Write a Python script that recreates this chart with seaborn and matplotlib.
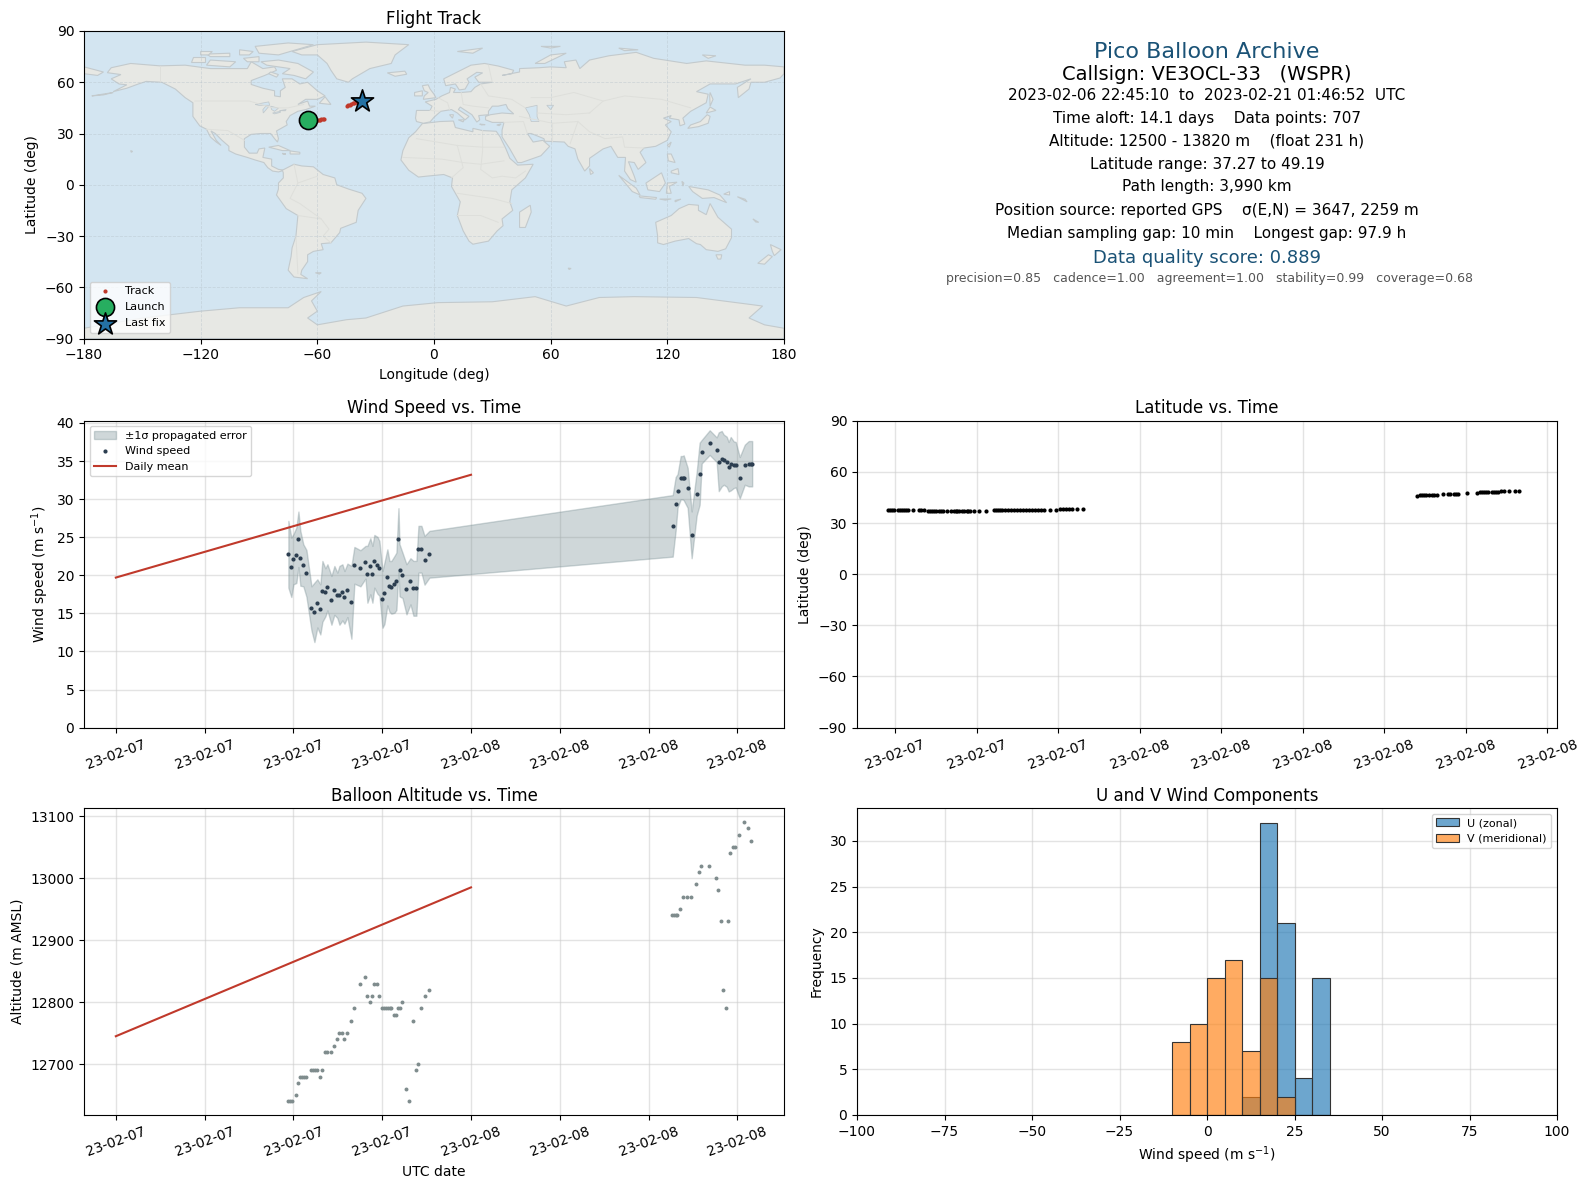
#!/usr/bin/env python3
"""Pico balloon flight summary figure, six panels."""
import matplotlib
matplotlib.use("Agg")
import matplotlib.pyplot as plt
import numpy as np
import seaborn as sns

W, H = 1587, 1189

# --- map outlines (lon, lat) ---
north_america = [(-168,65.6),(-166,68.5),(-156,71),(-141,69.6),(-128,70),(-115,68),(-108,68),(-96,68),(-94,72),(-88,68),(-82,69),(-81,67),(-87,64),(-94,61),(-94,58.7),(-88,56.5),(-82,55),(-82,52),(-79,51.5),(-79,55),(-76.5,57),(-78,62),(-73,62),(-69,59),(-65,60),(-60,55),(-56,52),(-60,50),(-66,50),(-70,47),(-65,49),(-64,46),(-61,46),(-66,44),(-70,43),(-74,40.5),(-76,37),(-75.5,35),(-81,31.5),(-80,27),(-80.5,25),(-82,27),(-84,30),(-89,30),(-94,29.5),(-97.5,27),(-97.5,22),(-95,18.5),(-91,18.5),(-90,21),(-87,21.5),(-88,16),(-83.5,15),(-83.5,11),(-80,9),(-77,8.5),(-80,7.5),(-83,8),(-85.5,10),(-87.5,13),(-92,14.5),(-96,16),(-102,18),(-105.5,20),(-105.5,22.5),(-109,26),(-112.5,30),(-114.7,31.5),(-112,26),(-109.5,23),(-112,25),(-115,28),(-117,32.5),(-120.5,34.5),(-124,40),(-124,48),(-128,51),(-133,56),(-140,60),(-148,60.5),(-152,59),(-158,56.5),(-165,54.5),(-158,58.5),(-162,59),(-166,62),(-161,64.5)]
south_america = [(-78,8.5),(-72,12),(-68,11),(-62,10.5),(-57,6),(-51,4),(-50,0),(-44,-2.5),(-37,-5),(-35,-8),(-39,-15),(-40,-22),(-48,-25.5),(-48.5,-28),(-53,-34),(-58,-34.5),(-57,-38),(-62,-39),(-65,-41),(-65,-45),(-68,-50),(-68.5,-52.5),(-65,-55),(-72,-54),(-75,-50),(-73.5,-42),(-73,-37),(-71,-30),(-70,-18),(-76,-14),(-81,-6),(-80,-2.5),(-80,1),(-77.5,4),(-77.5,7)]
africa = [(-6,35.8),(3,37),(10,37.3),(11,33.5),(20,31),(20,33),(25,31.7),(32,31.3),(34,28),(37,21),(39,15.5),(43,11.5),(51,12),(47,4),(40,-3),(39,-10),(40.5,-15),(35,-20),(35.5,-24),(32.5,-27),(28,-33),(20,-34.8),(18,-33),(15,-27),(12,-18),(13.5,-10),(9,-1),(9.5,4),(5,6),(-4,5),(-8,4.5),(-13,8.5),(-17,14.5),(-16,20),(-13,27.5),(-9.5,31)]
eurasia = [(-9,37),(-9.5,39),(-9,43.5),(-2,43.5),(-1,46),(-4.5,48.5),(1,50),(4,52),(8,54),(8.5,57),(11,56),(10,54),(14,54),(19,54.5),(21,57),(24,59),(30,60),(23,60),(21,63),(25,65.5),(22,65.8),(17,62),(18,60),(16,56),(13,55.5),(11,59),(6,58),(5,62),(12,66),(19,70),(26,71),(33,69.5),(41,67),(40,65),(35,64),(44,66),(44,68),(54,68.5),(60,69),(68,68.5),(67,72),(73,73),(75,68),(80,73),(90,75.5),(104,77.5),(113,74),(130,71),(140,72.5),(160,70),(170,70),(180,69),(180,65),(178,62.5),(170,60),(163,60),(162,56),(156.5,51),(156,57),(163,62),(155,59),(142,59),(135,54.5),(141,53),(140,48),(132,43),(128,39),(129,35.5),(126.5,34.5),(126,38),(121,39),(122,40.5),(118,39),(122,37),(119,35),(122,31),(120,26),(114,22.5),(108,21.5),(106,19),(109,13),(105,9),(103,13),(100,13.5),(103,5),(104,1.5),(101,3),(98,8),(98.5,16),(94.5,16),(91,22.5),(87,21),(80,15.5),(80,11),(77.5,8),(74,15),(72.5,21),(69,22.5),(67,25),(57,25.5),(56.5,27),(50,30),(48,30),(51,25),(56,26),(59.5,22.5),(55,17),(45,13),(43,13),(39,21),(35,28),(35,32),(36,36.5),(30,36.5),(26.5,38),(26.5,40),(29,41),(35,42),(41,41.5),(38,44.5),(37,47),(33,46),(30,46),(28,43),(28,41),(23,40.5),(23.5,38),(22,36.7),(19.5,41),(13.5,45.5),(12.5,44),(18,40),(16,38),(12,42),(9,44),(3.5,43),(0,39.5),(-2,36.8),(-5.5,36)]
australia = [(114,-22),(122,-18),(126,-14),(131,-11.5),(136,-12),(136,-15),(140,-17.5),(142,-11),(146,-19),(153,-26),(153,-31),(150,-37.5),(146,-39),(140,-38),(137,-35),(135,-34.5),(131,-31.5),(124,-33),(118,-35),(115,-34),(115,-30)]
antarctica = [(-180,-84),(-150,-78),(-120,-74),(-100,-72),(-75,-72),(-67,-66),(-58,-62.5),(-63,-68),(-60,-74),(-65,-78),(-60,-82),(-45,-79),(-35,-78),(-16,-71),(2,-69),(30,-68.5),(52,-65.5),(68,-71),(85,-66),(103,-65.5),(135,-66),(169,-71),(162,-78),(170,-82),(180,-84),(180,-90),(-180,-90)]
islands = [
    [(-73,78),(-60,82),(-35,83.5),(-13,82),(-20,76),(-22,71),(-33,68),(-42,62),(-44,60),(-50,62),(-53,67),(-55,71),(-60,76),(-68,76)],
    [(-80,73),(-70,71),(-62,66),(-66,62),(-72,64),(-78,65),(-74,68),(-86,70),(-89,72)],
    [(-117,70),(-105,69),(-102,72),(-115,73)],
    [(-90,77),(-80,76),(-62,82),(-75,83),(-92,81)],
    [(-125,72),(-118,72),(-118,75),(-124,75)],
    [(-115,75),(-105,75),(-105,77),(-117,76.5)],
    [(-96,72),(-90,72),(-90,75),(-98,74)],
    [(-100,76),(-95,76),(-93,78),(-100,79)],
    [(-120,76),(-116,76),(-114,78),(-120,78)],
    [(-85,65),(-81,63),(-80,64.5),(-84,66)],
    [(-59,47.7),(-53,47),(-56,51.5)],
    [(-85,22),(-80,23),(-74,20),(-78,20)],
    [(-78,18.4),(-76.2,18),(-77.5,17.8)],
    [(-74,19.8),(-69,19),(-69,18),(-74,18)],
    [(-24,65.5),(-15,66.5),(-14,64.7),(-20,63.5)],
    [(-5.5,50),(1,51),(0,53),(-2,56),(-3,58.5),(-6,58),(-5,55),(-3,54),(-5,52)],
    [(-10,52),(-6,52),(-6,55),(-10,54)],
    [(44,-16),(49.5,-12),(50,-16),(47,-25),(44,-25)],
    [(130.5,33),(136,34),(141,36),(142,40),(140.5,41),(137,37),(132,35)],
    [(140,42),(145,43.5),(142,45.5)],
    [(142,54),(143.5,50),(142,46),(141.8,52)],
    [(120,23),(122,25),(121,22)],
    [(120,18),(122,18),(124,13),(120.5,14)],
    [(122,7),(126,6),(125.5,9.5),(122,8)],
    [(109,1),(117,7),(119,1),(116,-4),(110,-3)],
    [(95,5.5),(104,-2),(106,-6),(102,-4)],
    [(105.5,-6.5),(114.5,-7.5),(114,-8.5),(106,-7.5)],
    [(116,-8.4),(122,-8.3),(119,-9)],
    [(124,-9.2),(127,-8.4),(124,-10)],
    [(119.5,-5),(120,1),(125,1.5),(121,-1),(122,-5)],
    [(127.5,2),(128.5,1),(128,-0.8)],
    [(131,-1),(141,-3),(147,-6),(150.5,-10.5),(144,-7.5),(138,-8),(133,-4)],
    [(149,-5.5),(152,-4),(152,-6)],
    [(156,-7),(160,-8.5),(161,-10)],
    [(164,-20),(167,-22),(165.5,-21.8)],
    [(145,-41),(148,-41),(147.5,-43.5),(146,-43.5)],
    [(173,-35),(178.5,-38),(175,-41.5),(174,-39)],
    [(172,-41),(174,-42),(170,-46.5),(166.5,-46)],
    [(80,9.5),(82,7),(80.5,6)],
    [(12,78),(25,80),(20,77)],
    [(52,71),(57,71),(68,77),(60,76)],
    [(8,41),(10,41),(9.5,39)],
    [(12.5,38),(15.5,38),(15,36.8)],
    [(23.5,35.5),(26.3,35.2),(24.5,35)],
    [(32.3,35),(34.5,35.6),(33.5,34.6)],
    [(-61,-51.5),(-58,-51.5),(-59,-52.3)],
    [(-156,20),(-155,19.5),(-155.7,19)],
    [(69,-48.8),(70.5,-49),(69.5,-49.6)],
    [(-180,69),(-170,66),(-173,64),(-180,65)],
    [(-176,52),(-165,54),(-170,52.6)],
    [(138,76),(145,75.5),(141,74)],
    [(55,81),(65,81),(60,80)],
    [(95,80),(105,79),(98,78.5)],
]
inland_water = [
    [(47,45),(53,46.5),(53,40),(54,37),(50,37),(49,41)],
    [(-92,47),(-85,48.5),(-84.5,46.5),(-90,46.5)],
    [(-87.8,42),(-85,45.8),(-86.5,46),(-88,44)],
    [(-84,46),(-80,44.8),(-82,43),(-83.5,44)],
    [(-83,42),(-79,43),(-79,42.4),(-82,41.5)],
    [(-79.5,43.4),(-76,44),(-76.5,43.3)],
    [(58,46.5),(61.5,46.5),(60,44)],
]
borders = [
    [(-123,49),(-95,49),(-83,45),(-75,45),(-67,47)],
    [(-141,69.6),(-141,60)],
    [(-117,32.5),(-106,31.7),(-97.5,26)],
    [(-70,-18),(-58,-20),(-54,-26),(-57,-30),(-53,-34)],
    [(-72,12),(-70,1),(-74,-8),(-69,-11),(-58,-20)],
    [(-60,5),(-70,1)],
    [(-71,-30),(-70,-52)],
    [(-9,27),(12,23),(25,22),(36,22)],
    [(25,31.7),(25,20),(24,9),(30,4),(35,5),(42,4),(47,8)],
    [(12,23),(15,10),(9,4)],
    [(-16,16),(4,15),(15,13),(24,12),(36,14)],
    [(12,-5),(30,-8),(40,-11)],
    [(12,-18),(24,-18),(33,-22)],
    [(-2,43.5),(3,43)],
    [(2,51),(7,48),(8,44)],
    [(14,54),(15,47),(20,46),(28,45)],
    [(24,59),(28,52),(40,50),(47,45)],
    [(30,60),(28,70)],
    [(36,36.5),(46,37),(48,30)],
    [(44,40),(61,36),(61,25)],
    [(61,36),(74,37),(70,24)],
    [(53,42),(68,41),(80,42)],
    [(50,51),(60,51),(72,54),(87,49),(98,52),(117,50),(132,45)],
    [(74,37),(80,31),(88,27),(97,28),(98,22),(108,21.5)],
    [(87,49),(80,42)],
]

# --- flight track ---
track_lon = [-64.6,-64.0,-63.3,-62.6,-62.0,-61.3,-60.6,-60.0,-59.3,-58.6,-58.0,-57.3,-56.6,-45.0,-44.2,-43.4,-42.6,-41.8,-41.0,-40.2,-39.4,-38.6,-37.8,-37.0]
track_lat = [37.8,37.8,37.7,37.5,37.4,37.3,37.5,37.7,37.9,38.0,38.2,38.4,38.5,46.0,46.5,46.9,47.2,47.6,47.9,48.2,48.5,48.8,49.0,49.2]
launch_lon, launch_lat = [-64.6], [37.9]
last_lon, last_lat = [-37.0], [49.2]

# --- wind panel ---
wind_hours = [11.66,11.86,12.00,12.20,12.34,12.47,12.67,12.88,13.22,13.42,13.62,13.82,13.96,14.16,14.30,14.57,14.77,14.97,15.11,15.31,15.45,15.65,15.92,16.12,16.53,16.87,17.00,17.20,17.34,17.47,17.68,17.81,18.02,18.15,18.35,18.49,18.62,18.83,18.96,19.10,19.17,19.37,19.64,19.91,20.11,20.31,20.45,20.65,20.86,21.19,
              37.63,37.83,37.96,38.17,38.30,38.37,38.64,38.91,39.25,39.45,39.59,40.13,40.60,40.74,40.94,41.08,41.28,41.41,41.55,41.75,41.89,42.16,42.50,42.77,42.90,43.00]
wind_speed = [22.76,21.05,22.10,22.63,24.73,22.23,21.31,20.26,15.66,15.13,16.31,15.52,17.89,17.76,18.42,16.71,18.02,17.37,17.37,17.76,17.10,18.02,16.45,21.31,20.92,21.71,20.13,21.18,20.13,21.84,21.31,20.92,16.84,17.63,19.73,18.55,18.42,18.81,19.21,24.73,20.66,20.00,18.16,19.21,18.29,18.29,23.42,23.42,21.97,22.76,
              26.49,29.39,31.10,32.81,32.81,32.81,31.49,25.31,30.71,33.34,36.23,37.42,36.49,34.91,35.31,35.18,34.91,34.26,34.65,34.52,34.52,32.81,34.52,34.65,34.65,34.65]
wind_err = [4.39,3.90,3.29,3.64,3.64,3.60,2.76,3.07,2.89,3.90,3.16,3.29,3.99,3.16,3.03,3.20,3.20,2.98,3.86,3.68,3.46,3.51,4.78,2.41,2.37,2.15,3.73,3.68,3.73,3.46,3.73,3.60,3.73,4.04,3.68,3.33,3.46,3.73,3.77,4.08,3.42,2.98,3.29,3.03,3.60,3.60,3.07,3.07,3.20,3.07,
            4.04,3.51,2.19,2.85,2.85,2.94,2.63,3.07,2.85,4.08,1.54,1.62,1.62,3.86,3.64,3.29,3.29,3.25,3.51,3.07,2.98,2.72,2.63,2.98,2.98,2.98]
daily_hours = [0, 24]
daily_wind = [19.7, 33.2]
time_ticks = [0, 6, 12, 18, 24, 30, 36, 42]
time_labels = ["23-02-07"] * 4 + ["23-02-08"] * 4

# --- latitude panel ---
lat_hours = [5.49,5.63,5.78,5.93,6.22,6.37,6.52,6.67,6.81,6.96,7.33,7.77,7.92,8.14,8.43,8.58,8.73,8.87,9.02,9.24,9.39,9.54,9.83,10.15,10.30,10.45,10.59,10.74,10.89,11.04,11.26,11.40,11.53,11.82,12.17,12.71,13.27,13.42,13.56,13.71,13.86,14.08,14.30,14.52,14.74,14.96,15.18,15.41,15.63,15.85,16.07,16.29,16.51,16.73,16.95,17.42,17.84,18.13,18.35,18.57,18.79,19.01,19.36,19.80,
             44.40,44.62,44.77,44.92,45.06,45.28,45.50,45.65,45.87,46.31,46.68,46.83,47.12,47.27,47.42,48.08,48.82,49.04,49.19,49.33,49.48,49.63,49.92,50.07,50.22,50.37,50.59,50.81,51.17,51.62,51.91]
lat_deg = [37.8,37.8,37.8,37.8,37.8,37.8,37.8,37.8,37.8,37.7,37.7,37.6,37.6,37.5,37.2,37.2,37.1,37.1,37.1,37.2,37.2,37.2,37.2,37.2,37.2,37.2,37.2,37.2,37.2,37.2,37.2,37.2,37.1,37.1,37.1,37.0,37.4,37.6,37.7,37.8,37.8,37.9,37.9,37.9,37.9,37.8,37.8,37.8,37.8,37.8,37.8,37.8,37.7,37.7,37.8,37.9,37.9,38.3,38.4,38.4,38.4,38.4,38.4,38.5,
           45.9,46.3,46.5,46.5,46.5,46.5,46.6,46.7,46.7,47.0,47.1,47.1,47.0,47.0,47.0,47.5,47.7,48.1,48.2,48.2,48.2,48.2,48.2,48.2,48.2,48.3,48.6,48.6,48.9,48.8,48.7]
lat_ticks = [6, 12, 18, 24, 30, 36, 42, 48, 54]
lat_labels = ["23-02-07"] * 3 + ["23-02-08"] * 6

# --- altitude panel ---
alt_hours = [11.66,11.79,11.93,12.20,12.34,12.47,12.61,12.74,12.88,13.22,13.35,13.49,13.62,13.82,13.96,14.16,14.30,14.57,14.77,14.97,15.11,15.31,15.45,15.65,15.92,16.12,16.53,16.87,17.00,17.20,17.34,17.47,17.68,17.81,18.02,18.15,18.29,18.42,18.56,18.62,18.83,18.96,19.10,19.17,19.37,19.64,19.84,20.11,20.31,20.45,20.65,20.86,21.19,
             37.60,37.74,37.88,37.94,38.15,38.35,38.62,38.89,39.23,39.43,39.57,40.11,40.58,40.72,40.92,41.05,41.26,41.39,41.53,41.73,41.86,42.14,42.47,42.74,42.95]
alt_m = [12640,12640,12640,12650,12670,12680,12680,12680,12680,12690,12690,12690,12690,12680,12690,12720,12720,12720,12730,12740,12750,12750,12740,12750,12770,12790,12830,12840,12810,12800,12810,12830,12830,12810,12790,12790,12790,12790,12790,12790,12780,12780,12790,12790,12800,12660,12640,12770,12690,12700,12790,12810,12820,
         12940,12940,12940,12940,12950,12970,12970,12970,12990,13010,13020,13020,13000,12980,12930,12820,12790,12930,13040,13050,13050,13070,13090,13080,13060]
daily_alt = [12745, 12985]

# --- histogram ---
bin_edges = [-10, -5, 0, 5, 10, 15, 20, 25, 30, 35]
u_counts = [0, 0, 0, 0, 2, 32, 21, 4, 15]
v_counts = [8, 10, 15, 17, 7, 15, 2, 0, 0]

# --- summary text ---
summary_lines = [
    ("Pico Balloon Archive", 51.6, 16, "#1a5276", 1207),
    ("Callsign: VE3OCL-33   (WSPR)", 74, 14, "black", 1207),
    ("2023-02-06 22:45:10  to  2023-02-21 01:46:52  UTC", 95.6, 11, "black", 1207),
    ("Time aloft: 14.1 days    Data points: 707", 118.5, 11, "black", 1207),
    ("Altitude: 12500 - 13820 m    (float 231 h)", 141.5, 11, "black", 1207),
    ("Latitude range: 37.27 to 49.19", 164.5, 11, "black", 1207),
    ("Path length: 3,990 km", 187, 11, "black", 1207),
    ("Position source: reported GPS    \u03c3(E,N) = 3647, 2259 m", 210.5, 11, "black", 1207),
    ("Median sampling gap: 10 min    Longest gap: 97.9 h", 233.5, 11, "black", 1207),
    ("Data quality score: 0.889", 258, 13, "#1a5276", 1207),
    ("precision=0.85   cadence=1.00   agreement=1.00   stability=0.99   coverage=0.68", 278.5, 9, "#555555", 1210),
]

OCEAN = "#d3e5f1"
LAND = "#e7e8e4"
COAST = "#c3cacd"
RED = "#c0392b"
GRID = {"color": "#cccccc", "alpha": 0.55, "linewidth": 1.0}
plt.rcParams["axes.titlepad"] = 5.3


def add_axes(fig, left, top, right, bottom):
    return fig.add_axes([left / W, 1 - bottom / H, (right - left) / W, (bottom - top) / H])


def time_axis(ax, ticks, labels):
    ax.set_xticks(ticks)
    ax.set_xticklabels(labels, rotation=20)
    ax.grid(True, **GRID)
    ax.set_axisbelow(True)


def draw_map(ax):
    ax.set_facecolor(OCEAN)
    for poly in [north_america, south_america, africa, eurasia, australia, antarctica] + islands:
        lon, lat = zip(*poly)
        ax.fill(lon, lat, facecolor=LAND, edgecolor=COAST, linewidth=0.8, zorder=1)
    for poly in inland_water:
        lon, lat = zip(*poly)
        ax.fill(lon, lat, facecolor=OCEAN, edgecolor=COAST, linewidth=0.6, zorder=1.2)
    for line in borders:
        lon, lat = zip(*line)
        ax.plot(lon, lat, color="#dedfdb", linewidth=0.7, zorder=1.5)
    ax.grid(True, color="#b8c4cc", alpha=0.5, linewidth=0.6, linestyle="--", zorder=2)
    ax.set_axisbelow(False)
    for spine in ax.spines.values():
        spine.set_zorder(6)

    sns.scatterplot(x=track_lon, y=track_lat, ax=ax, color=RED, s=9, linewidth=0, label="Track", zorder=3)
    sns.scatterplot(x=launch_lon, y=launch_lat, ax=ax, color="#27ae60", s=170, marker="o",
                    edgecolor="black", linewidth=1.2, label="Launch", zorder=4)
    sns.scatterplot(x=last_lon, y=last_lat, ax=ax, color="#2471a3", s=280, marker="*",
                    edgecolor="black", linewidth=1.2, label="Last fix", zorder=4)
    ax.set_xlim(-180, 180)
    ax.set_ylim(-90, 90)
    ax.set_xticks(np.arange(-180, 181, 60))
    ax.set_yticks(np.arange(-90, 91, 30))
    ax.set_xticklabels(["\u2212180", "\u2212120", "\u221260", "0", "60", "120", "180"])
    ax.set_title("Flight Track", fontsize=12)
    ax.set_xlabel("Longitude (deg)")
    ax.set_ylabel("Latitude (deg)")
    ax.legend(loc="lower left", fontsize=8, labelspacing=0.55, framealpha=0.8)


def draw_wind(ax):
    hours = np.array(wind_hours)
    speed = np.array(wind_speed)
    err = np.array(wind_err)
    ax.fill_between(hours, speed - err, speed + err, color="#768d92", alpha=0.35,
                    label="\u00b11\u03c3 propagated error")
    sns.scatterplot(x=wind_hours, y=wind_speed, ax=ax, color="#2c3e50", s=9, linewidth=0, label="Wind speed")
    sns.lineplot(x=daily_hours, y=daily_wind, ax=ax, color=RED, linewidth=1.5, label="Daily mean")
    ax.set_xlim(-2.15, 45.15)
    ax.set_ylim(0, 40.3)
    ax.set_yticks(np.arange(0, 41, 5))
    time_axis(ax, time_ticks, time_labels)
    ax.set_title("Wind Speed vs. Time", fontsize=12)
    ax.set_ylabel("Wind speed (m s$^{-1}$)")
    ax.legend(loc="upper left", fontsize=8)


def draw_latitude(ax):
    sns.scatterplot(x=lat_hours, y=lat_deg, ax=ax, color="black", s=9, linewidth=0)
    ax.set_xlim(3.2, 54.7)
    ax.set_ylim(-90, 90)
    ax.set_yticks(np.arange(-90, 91, 30))
    ax.set_yticklabels(["\u221290", "\u221260", "\u221230", "0", "30", "60", "90"])
    time_axis(ax, lat_ticks, lat_labels)
    ax.set_title("Latitude vs. Time", fontsize=12)
    ax.set_ylabel("Latitude (deg)")


def draw_altitude(ax):
    sns.scatterplot(x=alt_hours, y=alt_m, ax=ax, color="#7f8c8d", s=8, linewidth=0)
    sns.lineplot(x=daily_hours, y=daily_alt, ax=ax, color=RED, linewidth=1.5)
    ax.set_xlim(-2.15, 45.15)
    ax.set_ylim(12618, 13113)
    ax.set_yticks([12700, 12800, 12900, 13000, 13100])
    time_axis(ax, time_ticks, time_labels)
    ax.set_title("Balloon Altitude vs. Time", fontsize=12)
    ax.set_xlabel("UTC date")
    ax.set_ylabel("Altitude (m AMSL)")


def draw_hist(ax):
    centers = [(a + b) / 2 for a, b in zip(bin_edges[:-1], bin_edges[1:])]
    for counts, color, label in [(u_counts, "#1f77b4", "U (zonal)"), (v_counts, "#ff7f0e", "V (meridional)")]:
        sns.histplot(x=centers, weights=counts, bins=bin_edges, ax=ax, color=color, alpha=0.65,
                     edgecolor="#333333", linewidth=0.8, label=label)
    ax.set_xlim(-100, 100)
    ax.set_ylim(0, 33.6)
    ax.set_xticks(np.arange(-100, 101, 25))
    ax.grid(True, **GRID)
    ax.set_axisbelow(True)
    ax.set_title("U and V Wind Components", fontsize=12)
    ax.set_xlabel("Wind speed (m s$^{-1}$)")
    ax.set_ylabel("Frequency")
    ax.legend(loc="upper right", fontsize=8)


def main():
    fig = plt.figure(figsize=(W / 100, H / 100), dpi=100)

    draw_map(add_axes(fig, 84, 31, 784, 338.5))
    for text, y, size, color, x in summary_lines:
        fig.text(x / W, 1 - y / H, text, ha="center", va="center", fontsize=size, color=color)

    draw_wind(add_axes(fig, 84, 420.7, 784, 727.6))
    draw_latitude(add_axes(fig, 857, 420.7, 1557, 727.6))
    draw_altitude(add_axes(fig, 84, 808, 784, 1115))
    draw_hist(add_axes(fig, 857, 808, 1557, 1115))

    fig.savefig("out.png", dpi=100)


if __name__ == "__main__":
    main()
